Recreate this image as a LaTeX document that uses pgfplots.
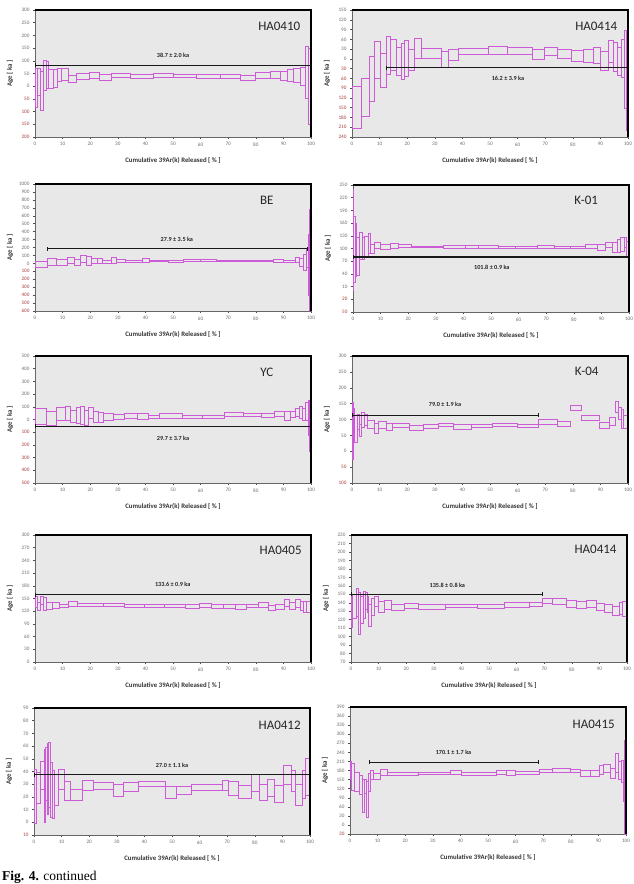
\documentclass[border=0pt]{standalone}
\usepackage{pgfplots}
\pgfplotsset{compat=1.18}
\usepackage{pgfplotstable}
\usepackage{fontspec}
\setmainfont{Carlito}
\newfontfamily\capfont{Liberation Serif}

\definecolor{spec}{RGB}{205,90,215}
\definecolor{negred}{RGB}{170,60,60}
\definecolor{ticktext}{RGB}{110,110,110}
\newcommand{\neglab}[1]{\textcolor{negred}{#1}}

% step spectra: one row per heating step (x0, x1 = cumulative 39Ar range; lo, hi = age envelope)
\pgfplotstableread{
x0 x1 lo hi
0.0 1.0 -85 70
1.0 2.1 -38 70
2.1 3.0 -95 60
3.0 4.0 -16 103
4.0 4.8 -9 99
4.8 6.7 -9 66
6.7 8.1 -5 66
8.1 9.7 18 70
9.7 12.1 21 70
12.1 15.1 14 43
15.1 19.7 26 50
19.7 23.3 29 54
23.3 27.8 24 47
27.8 34.5 33 50
34.5 42.9 32 47
42.9 50.2 33 50
50.2 58.6 34 47
58.6 67.1 30 47
67.1 74.4 32 47
74.4 79.8 24 42
79.8 85.2 29 53
85.2 88.9 29 59
88.9 91.3 24 59
91.3 93.7 18 66
93.7 96.1 14 70
96.1 97.9 4 72
97.9 99.2 -50 155
99.2 100 -150 150
}\tblHAa

\pgfplotstableread{
x0 x1 lo hi
0 3.4 -213 -84
3.4 6.4 -177 -59
6.4 8.0 -130 6
8.0 10.4 -59 52
10.4 12.4 -88 16
12.4 14.0 -47 68
14.0 16.1 -35 60
16.1 17.9 -50 34
17.9 19.1 -64 46
19.1 20.3 -53 57
20.3 22.5 -35 30
22.5 25.1 0 63
25.1 32.4 0 31
32.4 34.8 -25 22
34.8 38.6 -6 29
38.6 49.5 13 31
49.5 56.5 13 37
56.5 65.2 13 34
65.2 69.6 -2 29
69.6 74.4 10 34
74.4 79.5 0 30
79.5 83.7 -8 26
83.7 87.3 -10 29
87.3 90.1 -14 34
90.1 92.8 -35 22
92.8 94.8 -12 55
94.8 96.1 -40 50
96.1 97.6 -50 35
97.6 98.8 -57 60
98.8 99.5 -153 88
99.5 100 -220 88
}\tblHAb

\pgfplotstableread{
x0 x1 lo hi
0 4.5 -54 25
4.5 7.8 -25 67
7.8 11.7 -21 50
11.7 14.3 0 75
14.3 16.5 -21 50
16.5 18.7 17 100
18.7 20.4 -25 92
20.4 22.5 -4 67
22.5 24.5 4 58
24.5 27.7 0 42
27.7 29.5 -4 75
29.5 32.8 12 54
32.8 38.8 17 42
38.8 41.6 12 58
41.6 48.4 25 42
48.4 53.9 8 37
53.9 59.9 21 46
59.9 65.9 25 46
65.9 84.0 25 37
84.0 86.4 25 42
86.4 90.0 17 46
90.0 94.2 12 42
94.2 95.8 12 71
95.8 97.2 -33 67
97.2 98.2 -92 117
98.2 99.0 -46 183
99.0 99.5 -400 370
99.5 100 -600 680
}\tblBE

\pgfplotstableread{
x0 x1 lo hi
0 0.24 1 240
0.24 0.73 20 176
0.73 1.33 35 160
1.33 2.4 37 127
2.4 3.3 75 139
3.3 4.2 75 125
4.2 5.5 79 129
5.5 6.4 88 135
6.4 7.9 89 110
7.9 10.1 100 115
10.1 13.7 97 110
13.7 16.4 100 111
16.4 21.2 103 110
21.2 32.7 103 106
32.7 40.6 100 107
40.6 45.5 99 107
45.5 52.7 101 107
52.7 58.8 100 106
58.8 66.7 99 105
66.7 73.1 101 107
73.1 78.8 100 106
78.8 84.2 99 106
84.2 88.5 100 110
88.5 91.5 96 110
91.5 93.9 102 115
93.9 95.8 90 114
95.8 97.0 90 121
97.0 98.2 92 127
98.2 99.0 102 127
99.0 100 82 117
}\tblKa

\pgfplotstableread{
x0 x1 lo hi
0 4.2 -42 84
4.2 7.8 -47 61
7.8 11.1 -5 92
11.1 12.9 -5 100
12.9 15.1 -21 74
15.1 16.5 -32 92
16.5 18.0 -39 100
18.0 19.2 -47 74
19.2 21.1 5 92
21.1 22.9 -26 61
22.9 24.9 -21 58
24.9 28.6 -5 45
28.6 32.4 0 39
32.4 37.0 5 45
37.0 41.0 3 47
41.0 45.2 11 34
45.2 53.6 8 45
53.6 60.5 11 32
60.5 68.6 11 34
68.6 75.5 21 53
75.5 82.2 21 47
82.2 86.6 18 50
86.6 90.2 21 61
90.2 92.4 -5 61
92.4 94.2 13 66
94.2 95.7 21 87
95.7 96.9 5 100
96.9 98.1 -5 84
98.1 99.0 -5 132
99.0 99.6 -126 153
99.6 100 -250 132
}\tblYC

\pgfplotstableread{
x0 x1 lo hi
0 0.5 -26 154
0.5 1.0 32 135
1.0 1.8 27 114
1.8 2.8 69 117
2.8 3.4 48 85
3.4 4.4 75 122
4.4 5.5 82 117
5.5 8.0 71 96
8.0 9.7 56 88
9.7 12.5 71 94
12.5 14.5 66 88
14.5 20.7 75 88
20.7 25.8 67 82
25.8 31.3 72 85
31.3 36.7 78 88
36.7 43.4 69 83
43.4 50.9 74 84
50.9 59.8 77 88
59.8 67.4 75 84
67.4 74.5 84 99
74.5 79.2 78 93
79.2 83.2 130 143
83.2 89.5 96 112
89.5 93.1 71 90
93.1 95.5 82 106
95.5 96.7 122 157
96.7 97.7 99 138
97.7 98.5 72 133
98.5 100 71 112
}\tblKb

\pgfplotstableread{
x0 x1 lo hi
0 0.9 129 155
0.9 2.1 121 141
2.1 3.0 135 155
3.0 4.3 121 152
4.3 6.4 123 141
6.4 8.9 127 141
8.9 12.2 129 137
12.2 15.5 132 143
15.5 24.9 131 138
24.9 32.5 132 139
32.5 39.5 130 137
39.5 46.8 130 137
46.8 54.5 130 137
54.5 59.6 127 135
59.6 63.9 129 138
63.9 68.4 127 135
68.4 72.7 127 137
72.7 76.6 125 135
76.6 81.1 129 137
81.1 84.5 129 140
84.5 87.2 121 133
87.2 90.4 125 137
90.4 92.1 131 147
92.1 94.3 123 141
94.3 96.1 129 147
96.1 97.3 121 143
97.3 98.5 117 144
98.5 100 117 144
}\tblHAc

\pgfplotstableread{
x0 x1 lo hi
0 0.7 111 150
0.7 1.8 122 150
1.8 2.8 124 157
2.8 3.6 102 152
3.6 4.4 116 148
4.4 5.2 122 153
5.2 5.8 132 152
5.8 6.4 129 148
6.4 7.3 112 138
7.3 8.4 125 145
8.4 10.1 136 147
10.1 12.2 129 141
12.2 14.7 132 143
14.7 19.5 131 138
19.5 24.6 133 139
24.6 34.3 132 138
34.3 45.8 134 138
45.8 55.5 133 138
55.5 64.6 135 140
64.6 69.2 136 140
69.2 73.1 139 145
73.1 77.9 138 145
77.9 81.6 135 143
81.6 85.2 133 141
85.2 88.8 135 143
88.8 91.9 131 139
91.9 94.9 129 138
94.9 97.3 125 136
97.3 98.5 126 140
98.5 100 124 142
}\tblHAd

\pgfplotstableread{
x0 x1 lo hi
0 0.8 -1 42
0.8 2.3 15 39
2.3 3.9 26 48
3.9 4.2 0 57
4.2 4.7 17 59
4.7 5.3 6 62
5.3 5.9 12 63
5.9 6.6 4 47
6.6 7.3 3 41
7.3 8.7 13 38
8.7 10.9 26 42
10.9 13.2 17 32
13.2 17.5 17 26
17.5 21.7 25 33
21.7 28.8 26 31
28.8 32.4 20 30
32.4 37.9 24 31
37.9 47.8 28 32
47.8 51.6 19 28
51.6 56.9 22 28
56.9 68.4 25 30
68.4 70.6 25 33
70.6 73.9 21 32
73.9 78.8 19 29
78.8 81.8 24 38
81.8 84.6 17 30
84.6 87.0 20 34
87.0 90.3 16 29
90.3 93.1 30 45
93.1 94.7 24 41
94.7 97.1 13 30
97.1 98.5 19 41
98.5 100 21 50
}\tblHAe

\pgfplotstableread{
x0 x1 lo hi
0 0.6 150 210
0.6 1.6 115 202
1.6 3.6 112 172
3.6 4.5 101 163
4.5 5.2 41 150
5.2 6.0 104 150
6.0 6.7 25 145
6.7 7.3 112 170
7.3 8.5 150 181
8.5 10.9 150 170
10.9 13.7 163 185
13.7 24.8 165 174
24.8 36.3 166 175
36.3 40.5 166 181
40.5 53.2 165 174
53.2 56.8 166 181
56.8 59.9 163 181
59.9 68.6 166 177
68.6 73.2 172 185
73.2 79.8 174 188
79.8 83.4 172 185
83.4 87.1 161 180
87.1 90.3 161 181
90.3 91.9 166 196
91.9 94.3 172 199
94.3 96.1 155 188
96.1 97.3 172 237
97.3 98.2 150 210
98.2 99.0 139 213
99.0 99.5 79 205
99.5 100 -30 281
}\tblHAf

\pgfplotsset{
  agepanel/.style={
    scale only axis, width=276pt, height=127pt,
    anchor=south west, xmin=0, xmax=100,
    xtick={0,10,...,100},
    clip mode=individual,
    axis background/.style={fill=black!9},
    axis line style={draw=black!60, line width=0.5pt},
    tick align=outside, tick pos=left, major tick length=2pt,
    every tick/.style={black!70, line width=0.4pt},
    tick label style={font=\fontsize{5.2}{6}\selectfont, text=ticktext},
    /pgf/number format/assume math mode=true,
    xlabel={Cumulative 39Ar(k) Released [ \% ]},
    ylabel={Age [ ka ]},
    every axis x label/.style={at={(axis description cs:0.5,0)}, anchor=center,
      yshift=-23pt, font=\fontsize{6.8}{8}\selectfont\bfseries, text=black!80},
    every axis y label/.style={at={([xshift=-25pt]axis description cs:0,0.5)},
      anchor=center, rotate=90, font=\fontsize{6.8}{8}\selectfont\bfseries, text=black!80},
  },
  stepbox/.style={color=spec, draw=spec, line width=0.9pt, mark=none, forget plot,
    line join=miter, line cap=rect},
  plateau/.style={black!90, line width=1.1pt, mark=|, mark size=2pt,
    mark options={line width=0.8pt}},
}
\tikzset{
  name/.style={font=\fontsize{13}{14}\selectfont, text=black!85},
  age/.style={font=\fontsize{6.2}{7}\selectfont\bfseries, text=black!85},
}

% one closed box per heating step, read row by row from the table
\newcommand{\spectrum}[1]{%
  \pgfplotstablegetrowsof{#1}%
  \pgfmathtruncatemacro{\nlast}{\pgfplotsretval-1}%
  \pgfplotsforeachungrouped \rowidx in {0,...,\nlast}{%
    \pgfplotstablegetelem{\rowidx}{x0}\of{#1}\let\xa\pgfplotsretval
    \pgfplotstablegetelem{\rowidx}{x1}\of{#1}\let\xb\pgfplotsretval
    \pgfplotstablegetelem{\rowidx}{lo}\of{#1}\let\ya\pgfplotsretval
    \pgfplotstablegetelem{\rowidx}{hi}\of{#1}\let\yb\pgfplotsretval
    \edef\stepbox{\noexpand\addplot[stepbox] coordinates
      {(\xa,\ya) (\xb,\ya) (\xb,\yb) (\xa,\yb) (\xa,\ya)};}%
    \stepbox
  }%
}
\newcommand{\frameedge}{%
  \draw[black, line width=1.4pt] (rel axis cs:0,1) -- (rel axis cs:1,1) -- (rel axis cs:1,0);
}

\begin{document}
\begin{tikzpicture}
\path[use as bounding box] (0,0) rectangle (634pt,884pt);

% ---- row 1
\begin{axis}[agepanel, at={(35pt,747pt)}, ymin=-200, ymax=300,
  ytick={-200,-150,...,300},
  yticklabels={\neglab{200},\neglab{150},\neglab{100},\neglab{50},0,50,100,150,200,250,300}]
  \spectrum{\tblHAa}
  \addplot[plateau] coordinates {(0,82) (100,82)};
  \node[age] at (axis cs:50,122) {38.7 ± 2.0 ka};
  \node[name] at (rel axis cs:0.885,0.87) {HA0410};
  \frameedge
\end{axis}

\begin{axis}[agepanel, at={(352pt,747pt)}, ymin=-240, ymax=150,
  ytick={-240,-210,...,150},
  yticklabels={\neglab{240},\neglab{210},\neglab{180},\neglab{150},\neglab{120},\neglab{90},\neglab{60},\neglab{30},0,30,60,90,120,150}]
  \spectrum{\tblHAb}
  \addplot[plateau] coordinates {(12.4,-27) (100,-27)};
  \node[age] at (axis cs:56.5,-61) {16.2 ± 3.9 ka};
  \node[name] at (rel axis cs:0.885,0.87) {HA0414};
  \frameedge
\end{axis}

% ---- row 2
\begin{axis}[agepanel, at={(35pt,573pt)}, ymin=-600, ymax=1000,
  ytick={-600,-500,...,1000},
  yticklabels={\neglab{600},\neglab{500},\neglab{400},\neglab{300},\neglab{200},\neglab{100},0,100,200,300,400,500,600,700,800,900,1000}]
  \spectrum{\tblBE}
  \addplot[plateau] coordinates {(4.5,183) (98.7,183)};
  \node[age] at (axis cs:51.4,308) {27.9 ± 3.5 ka};
  \node[name] at (rel axis cs:0.84,0.875) {BE};
  \frameedge
\end{axis}

\begin{axis}[agepanel, at={(353pt,572pt)}, ymin=-50, ymax=250,
  ytick={-50,-20,...,250},
  yticklabels={\neglab{50},\neglab{20},10,40,70,100,130,160,190,220,250}]
  \spectrum{\tblKa}
  \addplot[plateau] coordinates {(0,80) (100,80)};
  \node[age] at (axis cs:50.3,55) {101.8 ± 0.9 ka};
  \node[name] at (rel axis cs:0.845,0.88) {K-01};
  \frameedge
\end{axis}

% ---- row 3
\begin{axis}[agepanel, at={(35pt,401pt)}, ymin=-500, ymax=500,
  ytick={-500,-400,...,500},
  yticklabels={\neglab{500},\neglab{400},\neglab{300},\neglab{200},\neglab{100},0,100,200,300,400,500}]
  \spectrum{\tblYC}
  \addplot[plateau] coordinates {(0,-53) (100,-53)};
  \node[age] at (axis cs:50,-145) {29.7 ± 3.7 ka};
  \node[name] at (rel axis cs:0.84,0.87) {YC};
  \frameedge
\end{axis}

\begin{axis}[agepanel, at={(352pt,401pt)}, ymin=-100, ymax=300,
  ytick={-100,-50,...,300},
  yticklabels={\neglab{100},\neglab{50},0,50,100,150,200,250,300}]
  \spectrum{\tblKb}
  \addplot[plateau] coordinates {(0,114) (67.4,114)};
  \node[age] at (axis cs:33.7,149) {79.0 ± 1.9 ka};
  \node[name] at (rel axis cs:0.85,0.88) {K-04};
  \frameedge
\end{axis}

% ---- row 4
\begin{axis}[agepanel, at={(35pt,222pt)}, ymin=0, ymax=300,
  ytick={0,30,...,300}]
  \spectrum{\tblHAc}
  \addplot[plateau] coordinates {(0,159) (100,159)};
  \node[age] at (axis cs:49.9,183) {133.6 ± 0.9 ka};
  \node[name] at (rel axis cs:0.89,0.88) {HA0405};
  \frameedge
\end{axis}

\begin{axis}[agepanel, at={(351pt,222pt)}, ymin=70, ymax=220,
  ytick={70,80,...,220}]
  \spectrum{\tblHAd}
  \addplot[plateau] coordinates {(0,150) (69.5,150)};
  \node[age] at (axis cs:34.9,161) {135.8 ± 0.8 ka};
  \node[name] at (rel axis cs:0.886,0.885) {HA0414};
  \frameedge
\end{axis}

% ---- row 5
\begin{axis}[agepanel, at={(34pt,49pt)}, ymin=-10, ymax=90,
  ytick={-10,0,...,90},
  yticklabels={\neglab{10},0,10,20,30,40,50,60,70,80,90}]
  \spectrum{\tblHAe}
  \addplot[plateau] coordinates {(0,37.5) (100,37.5)};
  \node[age] at (axis cs:50,45) {27.0 ± 1.1 ka};
  \node[name] at (rel axis cs:0.89,0.865) {HA0412};
  \frameedge
\end{axis}

\begin{axis}[agepanel, at={(350pt,50pt)}, ymin=-30, ymax=390,
  ytick={-30,0,...,390},
  yticklabels={\neglab{30},0,30,60,90,120,150,180,210,240,270,300,330,360,390}]
  \spectrum{\tblHAf}
  \addplot[plateau] coordinates {(6.9,207) (68.1,207)};
  \node[age] at (axis cs:37.5,240) {170.1 ± 1.7 ka};
  \node[name] at (rel axis cs:0.883,0.865) {HA0415};
  \frameedge
\end{axis}

\node[anchor=base west, font=\capfont\fontsize{13.5}{15}\selectfont, inner sep=0pt]
  at (2pt,3.2pt) {\textbf{Fig. 4.} continued};
\end{tikzpicture}
\end{document}
